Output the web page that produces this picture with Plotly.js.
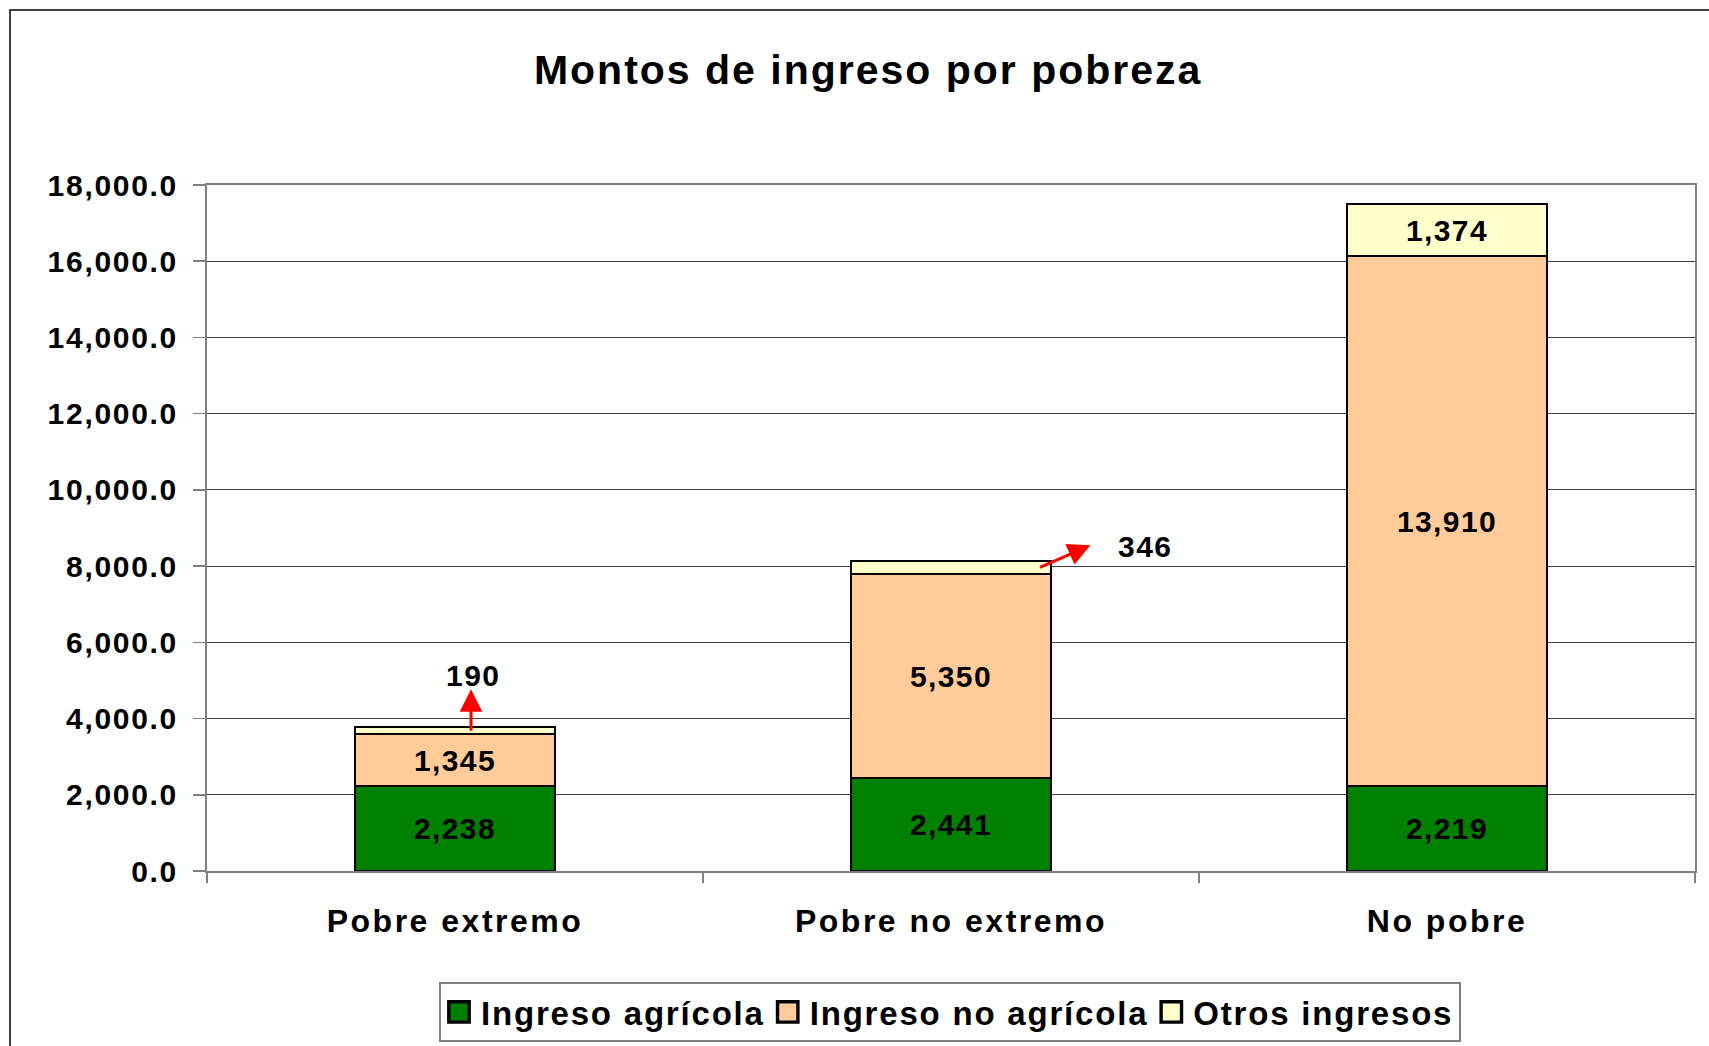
<!DOCTYPE html>
<html>
<head>
<meta charset="utf-8">
<script src="https://cdn.plot.ly/plotly-3.0.1.min.js"></script>
<style>
  html, body { margin: 0; padding: 0; background: #ffffff; }
  #chart { width: 1709px; height: 1046px; }
  .gtitle { letter-spacing: 2px; }
  .xtick text { letter-spacing: 2.5px; }
  .ytick text { letter-spacing: 1.7px; }
  .legendtext { letter-spacing: 1.8px; }
  .bartext { letter-spacing: 1.4px; }
  .annotation-text { letter-spacing: 1.5px; }
  #chart .legendpoints path { transform: translate(18px, 0px) scale(1.7); }
</style>
</head>
<body>
<div id="chart"></div>
<script>
// ---- Data ----
const categories = ['Pobre extremo', 'Pobre no extremo', 'No pobre'];
const seriesNames = ['Ingreso agrícola', 'Ingreso no agrícola', 'Otros ingresos'];
const ingresoAgricola = [2238, 2441, 2219];
const ingresoNoAgricola = [1345, 5350, 13910];
const otrosIngresos = [190, 346, 1374];
// which "Otros ingresos" values are labelled outside the bar with an arrow
const otrosCallout = [true, true, false];
const chartTitle = 'Montos de ingreso por pobreza';

// ---- Styles ----
const FONT = 'Liberation Sans, Arial, sans-serif';
const colors = ['#008000', '#FFCC99', '#FFFFCC'];
const fmt = v => v.toLocaleString('en-US');

const labelFont = { family: FONT, size: 30, color: '#000000', weight: 'bold' };

function barTrace(name, values, color, textArr) {
  return {
    type: 'bar',
    name: name,
    x: categories,
    y: values,
    marker: { color: color, line: { color: '#000000', width: 2 } },
    text: textArr,
    texttemplate: '%{text}',
    textposition: 'inside',
    insidetextanchor: 'middle',
    constraintext: 'none',
    textangle: 0,
    insidetextfont: labelFont,
    textfont: labelFont,
    hoverinfo: 'skip'
  };
}

const traces = [
  barTrace(seriesNames[0], ingresoAgricola, colors[0], ingresoAgricola.map(fmt)),
  barTrace(seriesNames[1], ingresoNoAgricola, colors[1], ingresoNoAgricola.map(fmt)),
  barTrace(seriesNames[2], otrosIngresos, colors[2], otrosIngresos.map((v, i) => otrosCallout[i] ? '' : fmt(v)))
];

// call-out annotations (arrow + text) for thin segments
const calloutShift = [[16, 0, -43, 2, 55], [89, 52, -23, 105, 21], [0, 0, 0, 0, 0]]; // [xshift, ax, ay, textdx, textdy]
const annotations = [];
categories.forEach((c, i) => {
  if (!otrosCallout[i]) return;
  const mid = ingresoAgricola[i] + ingresoNoAgricola[i] + otrosIngresos[i] / 2;
  const s = calloutShift[i];
  annotations.push({
    x: c, y: mid, xref: 'x', yref: 'y',
    xshift: s[0],
    text: '', showarrow: true,
    ax: s[1], ay: s[2], axref: 'pixel', ayref: 'pixel',
    arrowside: 'start', startarrowhead: 2, startarrowsize: 1.5, arrowwidth: 3,
    arrowcolor: '#FF0000', standoff: 0, startstandoff: 0
  });
  annotations.push({
    x: c, y: mid, xref: 'x', yref: 'y',
    xshift: s[0] + s[3], yshift: s[4],
    text: fmt(otrosIngresos[i]), showarrow: false,
    font: labelFont, xanchor: 'center', yanchor: 'middle'
  });
});

const layout = {
  width: 1709,
  height: 1046,
  paper_bgcolor: '#ffffff',
  plot_bgcolor: '#ffffff',
  margin: { l: 207, r: 14, t: 185, b: 175, pad: 0, autoexpand: false },
  barmode: 'stack',
  bargap: 0.597,
  showlegend: true,
  title: {
    text: chartTitle,
    x: 0.508, xref: 'container', xanchor: 'center',
    y: 1 - 70 / 1046, yref: 'container', yanchor: 'middle',
    font: { family: FONT, size: 41, color: '#000000', weight: 'bold' }
  },
  xaxis: {
    type: 'category',
    showline: true, linecolor: '#808080', linewidth: 2, mirror: true,
    ticks: 'outside', tickson: 'boundaries', ticklen: 10, tickcolor: '#808080', tickwidth: 1.5,
    tickfont: { family: FONT, size: 32, color: '#000000', weight: 'bold' },
    ticklabelstandoff: 21,
    showgrid: false, zeroline: false, fixedrange: true, automargin: false
  },
  yaxis: {
    range: [0, 18000],
    dtick: 2000, tick0: 0,
    tickformat: ',.1f',
    showline: true, linecolor: '#808080', linewidth: 2, mirror: true,
    ticks: 'outside', ticklen: 12, tickcolor: '#808080', tickwidth: 1.5,
    tickfont: { family: FONT, size: 30, color: '#000000', weight: 'bold' },
    ticklabelstandoff: 9,
    showgrid: true, gridcolor: '#404040', gridwidth: 1,
    zeroline: false, fixedrange: true, automargin: false
  },
  legend: {
    orientation: 'h',
    x: 950 / 1709, xref: 'container', xanchor: 'center',
    y: 1 - 1012 / 1046, yref: 'container', yanchor: 'middle',
    traceorder: 'normal',
    bordercolor: '#808080', borderwidth: 2,
    bgcolor: '#ffffff',
    font: { family: FONT, size: 33, color: '#000000', weight: 'bold' },
    itemclick: false, itemdoubleclick: false
  },
  shapes: [{
    type: 'rect', xref: 'paper', yref: 'paper',
    x0: (10 - 207) / 1488, x1: 2, y0: -2, y1: (871 - 10) / 686,
    line: { color: '#000000', width: 1.5 }, fillcolor: 'rgba(0,0,0,0)', layer: 'below'
  }],
  annotations: annotations
};

Plotly.newPlot('chart', traces, layout, { displayModeBar: false, responsive: false, staticPlot: true });
</script>
</body>
</html>
